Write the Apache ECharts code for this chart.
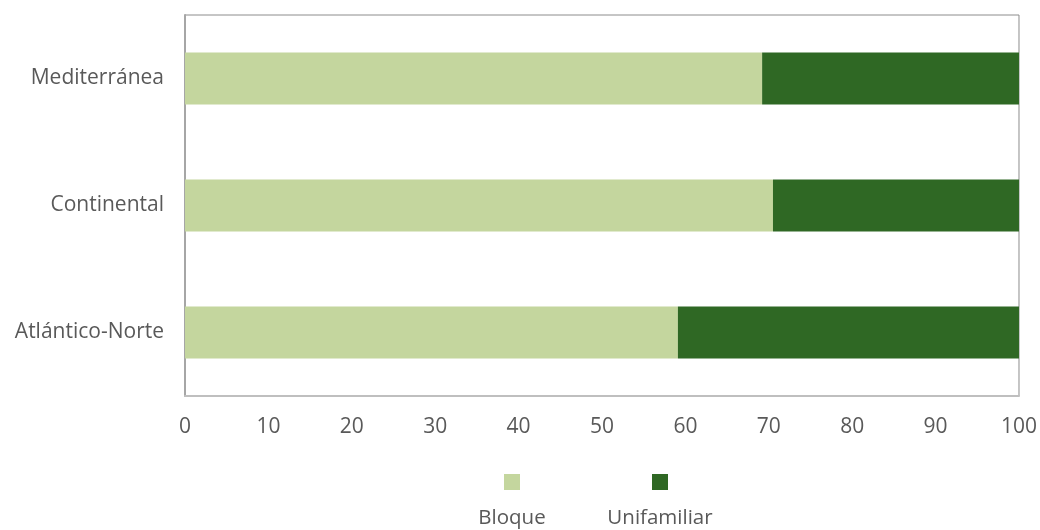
<!DOCTYPE html>
<html>
<head>
<meta charset="utf-8">
<script src="https://cdn.jsdelivr.net/npm/echarts@6/dist/echarts.min.js"></script>
<style>
  html, body { margin: 0; padding: 0; background: #ffffff; overflow: hidden; }
  #chart { width: 1040px; height: 530px; }
</style>
</head>
<body>
<div id="chart"></div>
<script>
// Climate zones, listed bottom to top as the category axis draws them
const zones = ['Atlántico-Norte', 'Continental', 'Mediterránea'];
// Share of dwellings (%) by building type
const bloque = [59.1, 70.5, 69.2];
const unifamiliar = [40.9, 29.5, 30.8];
const xTicks = { min: 0, max: 100, interval: 10 };

const FONT = '"Open Sans", Lato, sans-serif';
const TEXT = '#595959';
const LIGHT = '#c4d69e';
const DARK = '#2f6824';

const chart = echarts.init(document.getElementById('chart'), null, { renderer: 'canvas' });

chart.setOption({
  backgroundColor: '#ffffff',
  animation: false,
  textStyle: { fontFamily: FONT },
  grid: {
    left: 185, right: 15, top: 15, bottom: 134,
    show: true, borderColor: '#8c8c8c', borderWidth: 1
  },
  xAxis: {
    type: 'value',
    min: xTicks.min, max: xTicks.max, interval: xTicks.interval,
    axisLine: { show: true, lineStyle: { color: '#bfbfbf', width: 2 } },
    axisTick: { show: false },
    splitLine: { show: false },
    axisLabel: { color: TEXT, fontSize: 21, fontFamily: FONT, margin: 21 }
  },
  yAxis: {
    type: 'category',
    data: zones,
    axisLine: { show: true, lineStyle: { color: '#a6a6a6', width: 2 } },
    axisTick: { show: false },
    axisLabel: { color: TEXT, fontSize: 21, fontFamily: FONT, margin: 21 }
  },
  legend: [
    {
      data: [{ name: 'Bloque', icon: 'rect' }],
      left: 504, top: 474, padding: 0,
      itemWidth: 16, itemHeight: 16,
      formatter: () => '',
      selectedMode: false
    },
    {
      data: [{ name: 'Unifamiliar', icon: 'rect' }],
      left: 652, top: 474, padding: 0,
      itemWidth: 16, itemHeight: 16,
      formatter: () => '',
      selectedMode: false
    }
  ],
  graphic: [
    {
      type: 'text', x: 512, y: 518,
      style: { text: 'Bloque', fill: TEXT, font: '20.5px ' + FONT, align: 'center', verticalAlign: 'middle' }
    },
    {
      type: 'text', x: 660, y: 518,
      style: { text: 'Unifamiliar', fill: TEXT, font: '20.5px ' + FONT, align: 'center', verticalAlign: 'middle' }
    }
  ],
  series: [
    {
      name: 'Bloque', type: 'bar', stack: 'total',
      data: bloque, barWidth: 52,
      itemStyle: { color: LIGHT }
    },
    {
      name: 'Unifamiliar', type: 'bar', stack: 'total',
      data: unifamiliar, barWidth: 52,
      itemStyle: { color: DARK }
    }
  ]
});
</script>
</body>
</html>
